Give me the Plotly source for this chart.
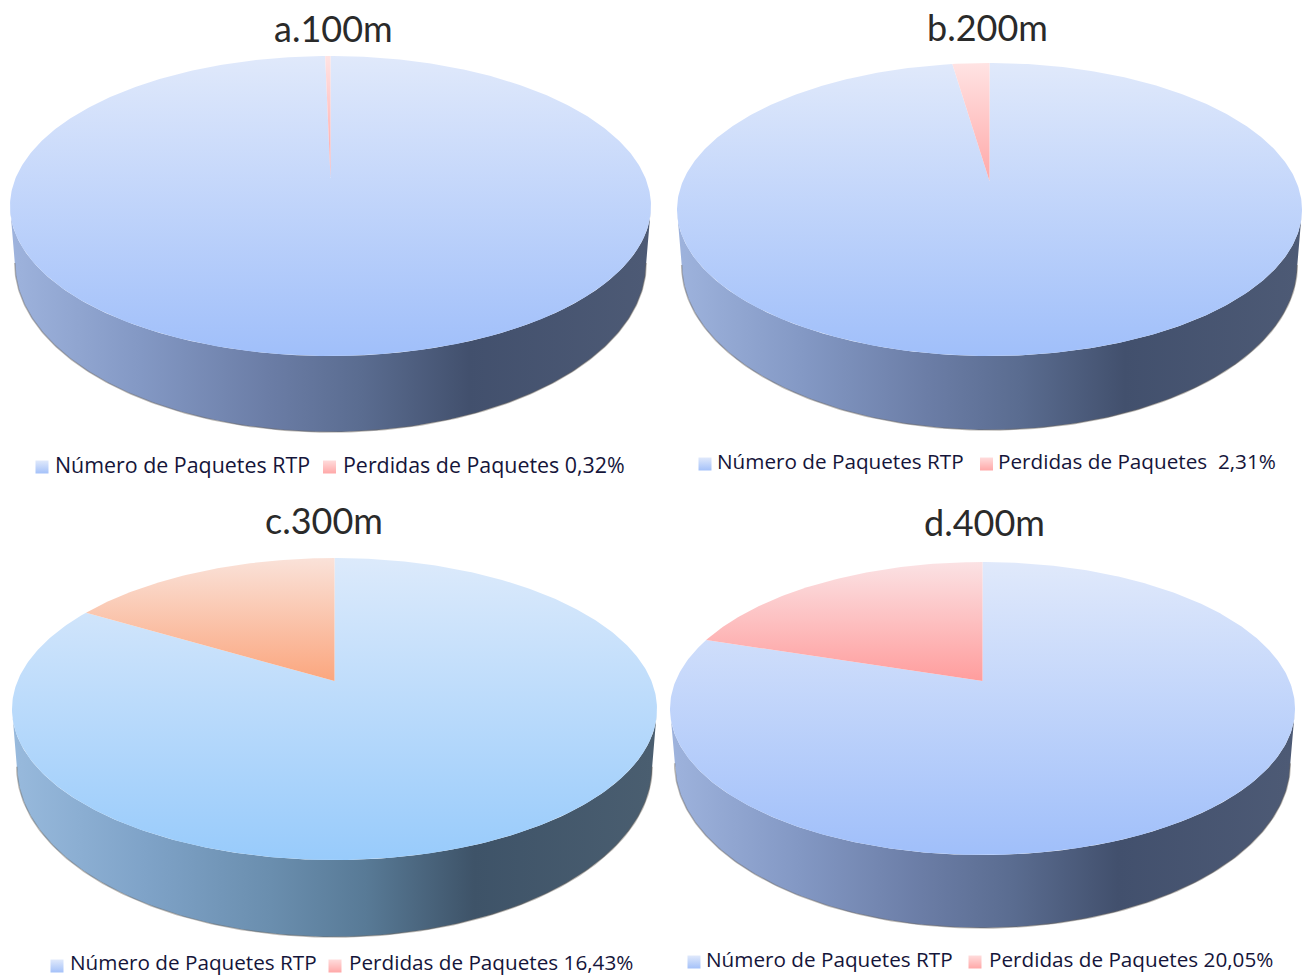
import numpy as np
import plotly.graph_objects as go

# Packet loss at each distance (percent of RTP packets)
panel_titles = ["a.100m", "b.200m", "c.300m", "d.400m"]
loss_percent = [0.32, 2.31, 16.43, 20.05]
series_names = ["Número de Paquetes RTP", "Perdidas de Paquetes"]

W, H = 1307, 975

# Page-pixel box and pie geometry of each panel
PANELS = [
    dict(box=(0, 660, 0, 490), ax=330.5, ay=178, top=56, bottom=356, half=320.5, depth=76,
         title=(333, 27.5), sw=(42, 329.5, 467), tx=(53, 341), ty=464, sep=" ", key_size=21.4),
    dict(box=(660, 1307, 0, 490), ax=989.5, ay=181, top=63, bottom=356, half=312.5, depth=74,
         title=(987, 26.5), sw=(705, 986.5, 464), tx=(715, 996), ty=461, sep="\u00a0\u00a0", key_size=20.7),
    dict(box=(0, 660, 490, 975), ax=334.5, ay=681, top=558, bottom=860, half=322.5, depth=77,
         title=(324, 519.5), sw=(57, 335, 966), tx=(68, 347), ty=962, sep=" ", key_size=20.7),
    dict(box=(660, 1307, 490, 975), ax=982.5, ay=681, top=562, bottom=855, half=312.5, depth=73,
         title=(984, 521.5), sw=(694, 975, 962), tx=(704, 987), ty=959, sep=" ", key_size=20.7),
]

BLUE_TOP = ["#e0e9fb", "#e0e9fb", "#dceafb", "#e0e9fb"]
BLUE_BOT = ["#a0bffa", "#a0bffa", "#98cbfb", "#a0bffa"]
LOSS_TOP = ["#ffe3e3", "#ffe3e3", "#fae2d9", "#fbe2e4"]
LOSS_BOT = ["#ffa3a3", "#ffa8a8", "#fba67e", "#ff9d9d"]
KEY_BLUE = ("#e0e9fb", "#a4c1f9")
KEY_LOSS = ("#ffdcdc", "#ffa8a8")
WALL = [
    [(0, "#9db2dc"), (0.2, "#8398c4"), (0.4, "#6b7da6"), (0.55, "#5a6c90"), (0.72, "#42506d"), (1, "#4d5a75")],
    [(0, "#9db2dc"), (0.2, "#8398c4"), (0.4, "#6b7da6"), (0.55, "#5a6c90"), (0.72, "#42506d"), (1, "#4d5a75")],
    [(0, "#97b9dc"), (0.2, "#7fa3c8"), (0.4, "#6a8eae"), (0.55, "#587a96"), (0.72, "#3e5368"), (1, "#4a5e70")],
    [(0, "#9db2dc"), (0.2, "#8398c4"), (0.4, "#6b7da6"), (0.55, "#5a6c90"), (0.72, "#42506d"), (1, "#4d5a75")],
]
TEXT = "#15153a"


def projector(p):
    """Perspective map of the unit disc, angle measured clockwise from 12 o'clock."""
    up, down = p["ay"] - p["top"], p["bottom"] - p["ay"]
    k = (down - up) / (down + up)
    b = down * (1 - k)
    r = p["half"] * np.sqrt(1 - k * k)

    def at(theta):
        u, v = np.sin(theta), -np.cos(theta)
        w = 1 - k * v
        return p["ax"] + r * u / w, p["ay"] + b * v / w

    return at, k


fig = go.Figure()
layout = dict(
    width=W, height=H, margin=dict(l=0, r=0, t=0, b=0), showlegend=False,
    paper_bgcolor="white", plot_bgcolor="white", annotations=[],
)

for i, (p, title, loss) in enumerate(zip(PANELS, panel_titles, loss_percent)):
    suffix = "" if i == 0 else str(i + 1)
    xa, ya = f"x{suffix}", f"y{suffix}"
    x0, x1, y0, y1 = p["box"]
    layout[f"xaxis{suffix}"] = dict(domain=[x0 / W, x1 / W], range=[x0, x1], visible=False, fixedrange=True)
    layout[f"yaxis{suffix}"] = dict(domain=[1 - y1 / H, 1 - y0 / H], range=[y1, y0], visible=False, fixedrange=True)

    at, k = projector(p)
    split = 2 * np.pi * (1 - loss / 100)

    # Side wall: front arc of the top face joined to a narrower, deeper lower rim
    front = np.linspace(np.arccos(-k), 2 * np.pi - np.arccos(-k), 240)
    tx_arc, ty_arc = at(front)
    mid_y = (p["top"] + p["bottom"]) / 2
    semi_minor = (p["bottom"] - p["top"]) / 2
    rim_drop = p["depth"] * 0.75
    rim_stretch = (semi_minor + p["depth"] - rim_drop) / semi_minor
    lx_arc = p["ax"] + (tx_arc - p["ax"]) * 0.985
    ly_arc = mid_y + rim_drop + (ty_arc - mid_y) * rim_stretch
    fig.add_trace(go.Scatter(
        x=np.r_[tx_arc, lx_arc[::-1]], y=np.r_[ty_arc, ly_arc[::-1]],
        xaxis=xa, yaxis=ya, mode="lines", line=dict(width=0), fill="toself", hoverinfo="skip",
        fillgradient=dict(type="horizontal", colorscale=WALL[i],
                          start=float(lx_arc.min()), stop=float(lx_arc.max())),
    ))
    fig.add_trace(go.Scatter(
        x=lx_arc, y=ly_arc, xaxis=xa, yaxis=ya, mode="lines", hoverinfo="skip",
        line=dict(color="rgba(110,105,95,0.45)", width=1.5),
    ))

    # Top face: received packets, then the lost share closing at 12 o'clock
    for start, stop, c_top, c_bot, g0, g1, name in [
        (0.0, split, BLUE_TOP[i], BLUE_BOT[i], p["top"], p["bottom"], series_names[0]),
        (split, 2 * np.pi, LOSS_TOP[i], LOSS_BOT[i], p["top"], p["ay"], series_names[1]),
    ]:
        theta = np.linspace(start, stop, max(int((stop - start) * 80), 6))
        ex, ey = at(theta)
        fig.add_trace(go.Scatter(
            x=np.r_[p["ax"], ex, p["ax"]], y=np.r_[p["ay"], ey, p["ay"]],
            xaxis=xa, yaxis=ya, mode="lines", line=dict(width=0), fill="toself", name=name,
            fillgradient=dict(type="vertical", colorscale=[(0, c_top), (1, c_bot)], start=g0, stop=g1),
        ))

    # Key swatches
    sx0, sx1, sy = p["sw"]
    fig.add_trace(go.Scatter(
        x=[sx0, sx1], y=[sy, sy], xaxis=xa, yaxis=ya, mode="markers", hoverinfo="skip",
        marker=dict(symbol="square", size=13, color=[KEY_BLUE[0], KEY_LOSS[0]],
                    gradient=dict(type="vertical", color=[KEY_BLUE[1], KEY_LOSS[1]]), line=dict(width=0)),
    ))

    # Title and key labels
    layout["annotations"].append(dict(
        x=p["title"][0], y=p["title"][1], xref=xa, yref=ya, text=title, showarrow=False,
        xanchor="center", yanchor="middle", font=dict(family="Lato", size=36, color="#2a2a2a"),
    ))
    value_text = f"{loss:.2f}".replace(".", ",") + "%"
    labels = [series_names[0], f"{series_names[1]}{p['sep']}{value_text}"]
    for tx, label in zip(p["tx"], labels):
        layout["annotations"].append(dict(
            x=tx, y=p["ty"], xref=xa, yref=ya, text=label, showarrow=False,
            xanchor="left", yanchor="middle", font=dict(family="Open Sans", size=p["key_size"], color=TEXT),
        ))

fig.update_layout(**layout)
fig.write_html("out.html")
